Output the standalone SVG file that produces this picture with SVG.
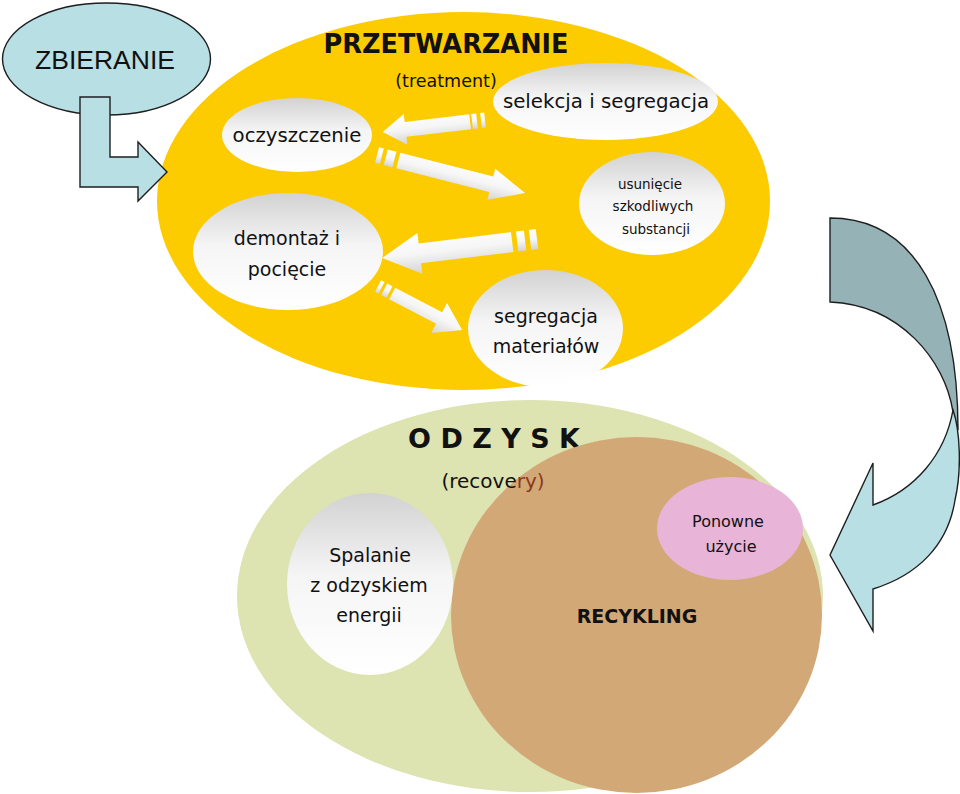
<svg xmlns="http://www.w3.org/2000/svg" width="960" height="794" viewBox="0 0 960 794">
<defs>
<linearGradient id="gEll" x1="0" y1="0" x2="0" y2="1">
<stop offset="0" stop-color="#d2d2d2"/>
<stop offset="0.45" stop-color="#f5f5f5"/>
<stop offset="1" stop-color="#ffffff"/>
</linearGradient>
<linearGradient id="gArr" x1="0" y1="0" x2="0" y2="1">
<stop offset="0" stop-color="#ffffff"/>
<stop offset="0.5" stop-color="#f6f6f6"/>
<stop offset="1" stop-color="#d4d4d4"/>
</linearGradient>
<style>
.t{font-family:"DejaVu Sans",sans-serif;fill:#111;text-anchor:middle}
.b{font-weight:bold}
.ell{fill:url(#gEll)}
.arr{fill:url(#gArr)}
.teal{fill:#b8dfe4;stroke:#1e1e1e;stroke-width:1.4}
</style>
</defs>
<rect width="960" height="794" fill="#ffffff"/>

<g id="przetwarzanie">
<ellipse cx="463.5" cy="201" rx="306.5" ry="189" fill="#fccb00"/>
<text class="t b" x="446" y="53" font-size="27" textLength="245" lengthAdjust="spacingAndGlyphs">PRZETWARZANIE</text>
<text class="t" x="446" y="87" font-size="17.5">(treatment)</text>
</g>

<g id="zbieranie">
<ellipse class="teal" cx="106.5" cy="59" rx="104" ry="56"/>
<text class="t" x="105" y="69" font-size="26.5" style="font-family:'Liberation Sans',Arial,sans-serif">ZBIERANIE</text>
</g>

<g id="oczyszczenie">
<ellipse class="ell" cx="297" cy="135" rx="75" ry="37"/>
<text class="t" x="297" y="142" font-size="19.7">oczyszczenie</text>
</g>
<g id="selekcja">
<ellipse class="ell" cx="605.5" cy="101.5" rx="112.5" ry="38.5"/>
<text class="t" x="606" y="108" font-size="19.8">selekcja i segregacja</text>
</g>
<g id="usuniecie">
<ellipse class="ell" cx="652" cy="203.5" rx="73" ry="51.5"/>
<text class="t" x="650" y="189" font-size="13.5">usunięcie</text>
<text class="t" x="653" y="211" font-size="13.5">szkodliwych</text>
<text class="t" x="656" y="234" font-size="13.5">substancji</text>
</g>
<g id="demontaz">
<ellipse class="ell" cx="288" cy="251.5" rx="95" ry="58.5"/>
<text class="t" x="287" y="245" font-size="19">demontaż i</text>
<text class="t" x="287" y="276" font-size="19">pocięcie</text>
</g>
<g id="segregacja">
<ellipse class="ell" cx="545.5" cy="328.5" rx="77.5" ry="58.5"/>
<text class="t" x="546" y="323" font-size="19">segregacja</text>
<text class="t" x="546" y="353" font-size="19">materiałów</text>
</g>

<g id="odzysk">
<ellipse cx="530" cy="596" rx="293" ry="196" fill="#dde3b1"/>
<text class="t b" x="494" y="448" font-size="27">O D Z Y S K</text>
</g>
<g id="recykling">
<ellipse cx="636.5" cy="615" rx="185.5" ry="178" fill="#d3a877"/>
<text class="t b" x="637" y="623" font-size="19">RECYKLING</text>
</g>
<text class="t" x="493" y="488" font-size="20">(recove<tspan fill="#8a3a1c">ry)</tspan></text>
<g id="ponowne">
<ellipse cx="730" cy="528.5" rx="73" ry="51.5" fill="#e8b4d8"/>
<text class="t" x="728" y="527" font-size="16">Ponowne</text>
<text class="t" x="731" y="552" font-size="16">użycie</text>
</g>
<g id="spalanie">
<ellipse class="ell" cx="370" cy="584" rx="83" ry="91"/>
<text class="t" x="370" y="562" font-size="19">Spalanie</text>
<text class="t" x="369" y="592" font-size="19">z odzyskiem</text>
<text class="t" x="369" y="622" font-size="19">energii</text>
</g>

<g id="connectors">
<path class="teal" d="M80,97 H110 V157 H138 V142 L167,172 L138,201 V187 H80 Z"/>
<g transform="translate(485,120) rotate(-6.7) scale(-1,1)">
<rect class="arr" x="0" y="-7.5" width="4" height="15"/>
<rect class="arr" x="8" y="-7.5" width="5" height="15"/>
<path class="arr" d="M15,-7.5 H80 V-15.5 L103,0 L80,15.5 V7.5 H15 Z"/>
</g>
<g transform="translate(377,155) rotate(14.4)">
<rect class="arr" x="0" y="-8" width="5" height="16"/>
<rect class="arr" x="9" y="-8" width="9" height="16"/>
<path class="arr" d="M22,-8 H118 V-16 L153,0 L118,16 V8 H22 Z"/>
</g>
<g transform="translate(537,239) rotate(-7) scale(-1,1)">
<rect class="arr" x="0" y="-10" width="7" height="20"/>
<rect class="arr" x="12" y="-10" width="8" height="20"/>
<path class="arr" d="M25,-10 H118 V-20.5 L156,0 L118,20.5 V10 H25 Z"/>
</g>
<g transform="translate(378,286) rotate(27.6)">
<rect class="arr" x="0" y="-6.5" width="4" height="13"/>
<rect class="arr" x="7" y="-6.5" width="6" height="13"/>
<path class="arr" d="M16,-6.5 H69 V-17 L95,0 L69,17 V6.5 H16 Z"/>
</g>
<path d="M830,218 C915,218 958,300 958,430 L953,412 C945,360 900,305 830,302 Z" fill="#95b2b7" stroke="#1e1e1e" stroke-width="1.4"/>
<path class="teal" d="M953,410 C960,430 962,470 955,500 C948,545 918,575 873,589 L873,631 L830,555 L873,463 L873,505 C915,490 945,455 953,410 Z"/>
</g>
</svg>
